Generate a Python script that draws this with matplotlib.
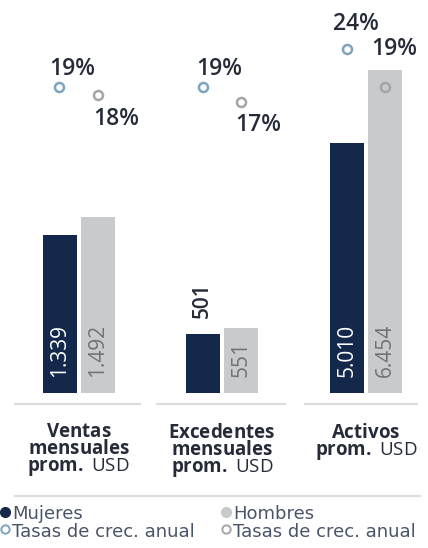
import matplotlib
matplotlib.use("Agg")
import matplotlib.pyplot as plt

plt.rcParams['font.family'] = ['Open Sans', 'DejaVu Sans']
plt.rcParams['mathtext.fontset'] = 'custom'
plt.rcParams['mathtext.rm'] = 'Open Sans'
plt.rcParams['mathtext.bf'] = 'Open Sans:bold'

categories = [["Ventas", "mensuales", "prom."], ["Excedentes", "mensuales", "prom."], ["Activos", "prom."]]
unit = "USD"
mujeres = [1339, 501, 5010]
hombres = [1492, 551, 6454]
tasa_mujeres = [19, 19, 24]
tasa_hombres = [18, 17, 19]

NAVY = "#14284b"
GREY = "#c9cacc"
RATE_BLUE = "#7ea3bd"
RATE_GREY = "#a3a5a8"
TXT = "#262b38"

W, H = 428, 548
fig = plt.figure(figsize=(W / 100, H / 100), dpi=100)

def fx(px):
    return px / W

def fy(py):
    return 1 - py / H

base_px = 393
unit_px = 38.5          # distance between bar centres
centres = [78.75, 222, 366]
half = 70
ytops = [3330, 3330, 7860]   # value scale per group
rate_lim = (-21.26, 30.45)

# label placement for the growth rates, in pixels from the marker
off_m = [(-10, 18), (-7, 18), (-14, 25)]
off_h = [(-5, -24), (-6, -23), (-14, 38)]

def fmt(v):
    return f"{v:,}".replace(",", ".")

for i, c in enumerate(centres):
    ax = fig.add_axes([fx(c - half), fy(base_px), fx(2 * half), base_px / H])
    span = half / unit_px
    ax.set_xlim(0.5 - span, 0.5 + span)
    ax.set_ylim(0, ytops[i])
    ax.axis("off")
    ax.bar([0, 1], [mujeres[i], hombres[i]], width=34 / unit_px, color=[NAVY, GREY])

    # value labels
    if i == 1:
        ax.annotate(fmt(mujeres[i]), (0, mujeres[i]), xytext=(0, 16), textcoords="offset pixels",
                    rotation=90, ha="center", va="bottom", fontsize=15, color=TXT, fontweight="semibold")
    else:
        ax.annotate(fmt(mujeres[i]), (0, 0), xytext=(0, 16), textcoords="offset pixels",
                    rotation=90, ha="center", va="bottom", fontsize=15, color="white")
    ax.annotate(fmt(hombres[i]), (1, 0), xytext=(0, 16), textcoords="offset pixels",
                rotation=90, ha="center", va="bottom", fontsize=15, color="#6f7276")

    # growth rates
    rx = ax.twinx()
    rx.set_ylim(*rate_lim)
    rx.axis("off")
    rx.plot([0], [tasa_mujeres[i]], "o", ms=6.5, mfc="white", mec=RATE_BLUE, mew=1.8)
    rx.plot([1], [tasa_hombres[i]], "o", ms=6.5, mfc="none", mec=RATE_GREY, mew=1.8)
    rx.annotate(f"{tasa_mujeres[i]}%", (0, tasa_mujeres[i]), xytext=off_m[i], textcoords="offset pixels",
                ha="left", va="center", fontsize=16.5, color=TXT, fontweight="semibold")
    rx.annotate(f"{tasa_hombres[i]}%", (1, tasa_hombres[i]), xytext=off_h[i], textcoords="offset pixels",
                ha="left", va="center", fontsize=16.5, color=TXT, fontweight="semibold")

# separators under the bars
for x0, x1 in [(15, 140), (157, 285), (305, 417)]:
    fig.add_artist(plt.Line2D([fx(x0), fx(x1)], [fy(404), fy(404)], color="#dcdcdc", lw=1.6))
fig.add_artist(plt.Line2D([fx(15), fx(420)], [fy(496), fy(496)], color="#dcdcdc", lw=1.6))

# category labels: bold words, unit in regular weight on the last line
for c, lines in zip(centres, categories):
    rows = [r"$\bf{" + ln + "}$" for ln in lines]
    rows[-1] += " " + unit
    fig.text(fx(c), fy(423), "\n".join(rows), ha="center", va="top", fontsize=13.5,
             color=TXT, linespacing=0.87, multialignment="center")

# legend
LEG = "#4a5468"
leg_font = dict(ha="left", va="center", fontsize=13, color=LEG, family="DejaVu Sans", linespacing=1.03)
fig.add_artist(plt.Line2D([fx(5)], [fy(512)], marker="o", ms=7, color=NAVY, lw=0))
fig.add_artist(plt.Line2D([fx(226)], [fy(512)], marker="o", ms=7, color=GREY, lw=0))
fig.add_artist(plt.Line2D([fx(5)], [fy(529)], marker="o", ms=6, mfc="white", mec=RATE_BLUE, mew=1.4, lw=0))
fig.add_artist(plt.Line2D([fx(226)], [fy(529)], marker="o", ms=6, mfc="white", mec=RATE_GREY, mew=1.4, lw=0))
fig.text(fx(12), fy(523), "Mujeres\nTasas de crec. anual", **leg_font)
fig.text(fx(233), fy(523), "Hombres\nTasas de crec. anual", **leg_font)

fig.savefig("out.png", dpi=100)
